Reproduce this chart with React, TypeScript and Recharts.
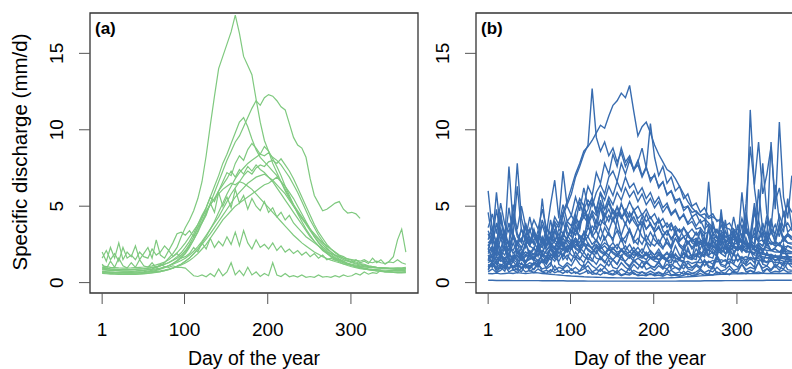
import { LineChart, Line, XAxis, YAxis, ReferenceArea } from 'recharts'

const days = [1,6,11,16,21,26,31,36,41,46,51,56,61,66,71,76,81,86,91,96,101,106,111,116,121,126,131,136,141,146,151,156,161,166,171,176,181,186,191,196,201,206,211,216,221,226,231,236,241,246,251,256,261,266,271,276,281,286,291,296,301,306,311,316,321,326,331,336,341,346,351,356,361,366]

const xTicks = [1, 100, 200, 300]
const yTicks = [0, 5, 10, 15]

// panel (a) - snowmelt catchments
const a01 = [0.9,0.85,0.8,0.8,0.78,0.75,0.75,0.74,0.75,0.78, 0.8,0.85,0.9,1.0,1.1,1.3,1.6,1.9,2.3,3.0, 3.6,4.1,4.7,5.5,6.6,8.3,10.3,12.2,14.0,14.8, 15.6,16.4,17.5,16.3,14.8,14.2,13.6,12.0,10.5,9.3, 8.6,7.8,7.2,6.6,6.0,5.5,5.0,4.6,4.2,3.9, 3.5,3.2,2.9,2.6,2.4,2.2,2.0,1.8,1.7,1.55, 1.45,1.35,1.25,1.2,1.1,1.05,1.0,0.98,0.95,0.92, 0.9,0.9,0.88,0.9]
const a02 = [0.7,0.68,0.66,0.65,0.64,0.63,0.62,0.62,0.63,0.65, 0.67,0.7,0.74,0.8,0.88,0.98,1.1,1.25,1.45,1.7, 2.0,2.4,2.8,3.3,3.9,4.5,5.2,5.9,6.6,7.3, 8.0,8.6,9.2,9.6,10.2,10.8,11.4,11.9,11.6,12.1, 12.3,12.2,11.9,11.5,11.3,10.4,9.5,9.0,8.8,8.2, 6.8,5.7,5.2,4.7,4.8,5.0,5.2,5.3,4.8,4.55, 4.6,4.5,4.2]
const a03 = [1.0,0.95,0.9,0.88,0.86,0.85,0.85,0.86,0.88,0.9, 0.92,0.95,1.0,1.05,1.1,1.2,1.3,1.45,1.6,1.8, 2.1,2.5,3.0,3.6,4.2,4.9,5.6,6.3,7.0,7.8, 8.4,9.1,9.8,10.5,10.8,10.2,9.4,8.7,8.2,7.9, 7.6,7.3,7.0,6.6,6.1,5.6,5.1,4.7,4.3,3.9, 3.5,3.1,2.8,2.5,2.2,2.0,1.8,1.65,1.5,1.4, 1.3,1.22,1.15,1.1,1.05,1.0,0.98,0.95,0.93,0.92, 0.9,0.9,0.9,0.92]
const a04 = [0.75,0.72,0.7,0.68,0.67,0.66,0.66,0.67,0.68,0.7, 0.72,0.75,0.8,0.85,0.92,1.0,1.1,1.25,1.4,1.6, 1.9,2.3,2.8,3.4,4.0,4.6,5.1,5.5,6.0,6.6, 7.2,7.0,7.8,8.3,8.0,8.7,9.1,8.8,8.4,8.9, 8.6,8.1,7.6,7.0,6.3,5.7,5.1,4.5,4.0,3.5, 3.1,2.7,2.4,2.1,1.9,1.7,1.55,1.4,1.3,1.2, 1.12,1.05,1.0,0.95,0.9,0.87,0.85,0.83,0.82,0.8, 0.8,0.79,0.78,0.8]
const a05 = [0.65,0.62,0.6,0.58,0.57,0.56,0.56,0.56,0.57,0.58, 0.6,0.62,0.65,0.68,0.72,0.78,0.85,0.95,1.05,1.2, 1.4,1.6,1.9,2.2,2.6,3.0,3.5,4.0,4.6,5.2, 5.8,6.3,6.8,7.2,7.5,7.8,8.0,8.2,8.4,8.3, 8.5,8.2,8.0,7.7,7.3,6.9,6.4,5.9,5.3,4.7, 4.1,3.6,3.1,2.7,2.3,2.0,1.75,1.55,1.4,1.25, 1.15,1.05,0.98,0.92,0.87,0.82,0.78,0.75,0.72,0.7, 0.68,0.67,0.66,0.68]
const a06 = [0.85,0.82,0.8,0.78,0.76,0.75,0.75,0.75,0.76,0.78, 0.8,0.83,0.86,0.9,0.95,1.02,1.1,1.2,1.32,1.45, 1.6,1.8,2.05,2.35,2.7,3.1,3.5,3.9,4.3,4.8, 5.3,5.8,6.2,6.6,7.0,7.3,7.1,7.5,7.7,7.6, 7.9,8.0,7.8,8.1,7.7,7.3,6.8,6.2,5.6,5.0, 4.4,3.8,3.3,2.9,2.5,2.2,1.95,1.75,1.6,1.45, 1.35,1.27,1.2,1.14,1.08,1.04,1.0,0.97,0.95,0.93, 0.92,0.9,0.9,0.92]
const a07 = [0.95,0.9,0.88,0.86,0.85,0.84,0.84,0.85,0.86,0.88, 0.9,0.93,0.97,1.02,1.1,1.2,1.32,1.48,1.7,1.95, 2.3,2.7,3.2,3.8,4.4,4.9,5.6,5.3,6.0,6.4, 6.8,7.3,6.9,7.4,7.1,7.6,7.3,7.7,7.4,7.2, 6.9,6.6,6.2,5.8,5.4,5.0,4.6,4.2,3.8,3.4, 3.0,2.7,2.4,2.15,1.95,1.75,1.6,1.47,1.36,1.27, 1.2,1.14,1.09,1.05,1.02,1.0,0.98,0.96,0.95,0.94, 0.93,0.93,0.92,0.94]
const a08 = [0.6,0.58,0.56,0.55,0.54,0.53,0.53,0.53,0.54,0.55, 0.57,0.6,0.63,0.67,0.72,0.78,0.86,0.96,1.08,1.22, 1.4,1.62,1.88,2.18,2.5,2.85,3.2,3.6,4.0,4.4, 4.8,5.2,5.6,5.9,6.2,6.5,6.7,6.9,7.0,7.1, 6.9,6.7,6.4,6.1,5.8,5.4,5.0,4.6,4.2,3.8, 3.4,3.0,2.65,2.35,2.1,1.85,1.65,1.48,1.34,1.22, 1.12,1.03,0.96,0.9,0.85,0.8,0.76,0.73,0.7,0.68, 0.66,0.64,0.63,0.65]
const a09 = [1.1,1.05,1.0,0.98,0.96,0.95,0.95,0.96,0.98,1.0, 1.02,1.05,1.1,1.16,1.24,1.35,1.5,1.7,1.95,2.25, 2.6,3.0,3.4,3.8,4.3,4.7,5.1,5.5,5.8,6.1, 6.3,6.5,6.4,6.6,6.5,6.3,6.1,5.8,5.5,5.2, 4.9,4.6,4.3,4.0,3.7,3.4,3.1,2.85,2.6,2.4, 2.2,2.0,1.85,1.7,1.58,1.47,1.38,1.3,1.23,1.17, 1.12,1.08,1.05,1.02,1.0,0.98,0.97,0.96,0.95,0.95, 0.95,0.96,0.97,1.0]
const a10 = [1.6,2.1,1.5,1.9,1.4,2.3,1.6,1.8,1.5,2.0, 1.7,1.6,2.2,1.8,2.0,2.4,2.1,2.6,3.2,3.3, 3.1,3.4,3.0,3.6,3.9,4.4,5.2,4.6,5.9,5.0, 5.6,4.9,6.1,5.2,5.7,4.8,5.5,5.0,4.7,5.3, 4.6,4.9,4.3,4.6,4.1,4.4,3.9,3.6,3.3,3.0, 2.8,2.6,2.4,2.2,2.0,1.9,1.8,1.7,1.6,1.55, 1.5,1.45,1.4,1.5,1.35,1.3,1.4,1.3,1.25,1.35, 1.3,1.5,1.3,1.2]
const a11 = [2.0,1.4,2.3,1.6,2.6,1.5,2.0,1.7,2.4,1.5, 1.9,2.3,1.6,2.8,1.8,1.6,2.1,1.7,1.9,1.6, 1.7,1.9,2.3,2.0,2.6,2.2,2.9,2.3,2.7,2.4, 3.0,2.5,3.3,2.4,3.4,2.6,2.2,2.8,2.3,2.5, 2.2,2.6,2.1,2.4,2.0,2.2,1.9,2.1,1.8,2.0, 1.7,1.9,1.6,1.8,1.5,1.6,1.45,1.5,1.4,1.45, 1.35,1.5,1.3,1.4,1.25,1.6,1.3,1.5,1.2,1.4, 1.7,2.8,3.5,2.0]
const a12 = [1.2,0.9,1.4,1.0,1.6,1.1,0.95,1.3,1.0,1.5, 1.1,1.0,1.3,0.95,1.2,1.05,1.0,1.1,1.0,1.0, 0.95,0.7,0.45,0.4,0.5,0.38,0.6,0.4,0.9,0.45, 0.7,1.3,0.5,0.8,0.45,1.0,0.5,0.7,0.4,0.6, 0.45,1.3,0.5,0.4,0.6,0.38,0.45,0.36,0.5,0.35, 0.4,0.35,0.5,0.36,0.4,0.34,0.45,0.36,0.5,0.4, 0.45,0.6,0.5,0.7,0.55,0.65,0.6,0.8,0.7,0.75, 0.8,0.9,0.85,0.9]
const a13 = [0.7,0.68,0.66,0.64,0.63,0.62,0.62,0.62,0.63,0.64, 0.66,0.68,0.7,0.73,0.77,0.82,0.88,0.95,1.05,1.15, 1.28,1.45,1.65,1.9,2.2,2.5,2.9,3.3,3.7,4.1, 4.4,4.7,5.0,5.2,5.4,5.6,5.8,6.0,6.2,6.4, 6.5,6.7,6.9,6.6,6.3,5.9,5.5,5.0,4.5,4.0, 3.5,3.0,2.6,2.25,1.95,1.7,1.5,1.35,1.22,1.12, 1.04,0.97,0.92,0.88,0.84,0.81,0.78,0.76,0.74,0.72, 0.71,0.7,0.7,0.72]

// panel (b) - rain-fed catchments
const b01 = [0.15,0.15,0.14,0.14,0.14,0.14,0.13,0.13,0.13,0.13, 0.13,0.13,0.13,0.12,0.12,0.12,0.12,0.12,0.12,0.11, 0.11,0.11,0.11,0.11,0.1,0.1,0.1,0.1,0.1,0.1, 0.1,0.1,0.1,0.1,0.1,0.1,0.1,0.1,0.1,0.1, 0.1,0.1,0.1,0.1,0.1,0.1,0.11,0.11,0.11,0.11, 0.11,0.11,0.12,0.12,0.12,0.12,0.12,0.13,0.13,0.13, 0.13,0.13,0.14,0.14,0.14,0.14,0.14,0.15,0.15,0.15, 0.15,0.15,0.15,0.15]
const b02 = [0.6,0.58,0.62,0.57,0.6,0.63,0.6,0.65,0.62,0.6, 0.62,0.66,0.64,0.6,0.58,0.55,0.52,0.5,0.47,0.45, 0.43,0.42,0.4,0.38,0.37,0.36,0.35,0.34,0.33,0.32, 0.32,0.31,0.31,0.3,0.3,0.3,0.29,0.29,0.28,0.28, 0.28,0.29,0.3,0.31,0.32,0.33,0.35,0.36,0.38,0.4, 0.42,0.44,0.46,0.48,0.5,0.52,0.54,0.55,0.56,0.57, 0.58,0.58,0.6,0.59,0.6,0.6,0.61,0.6,0.6,0.61, 0.6,0.6,0.6,0.6]
const b03 = [0.9,1.2,0.85,1.0,1.4,0.9,1.1,0.8,1.3,0.95, 1.1,0.85,1.2,0.9,1.0,1.3,0.8,1.0,0.9,1.15, 0.8,1.0,0.75,0.9,1.1,0.7,0.85,0.75,1.0,0.7, 0.8,0.65,0.9,0.7,0.6,0.8,0.65,0.7,0.6,0.75, 0.6,0.7,0.55,0.65,0.8,0.6,0.7,0.55,0.75,0.6, 0.7,0.9,0.65,0.8,0.7,1.0,0.75,0.85,1.1,0.8, 0.9,1.2,0.85,1.0,0.9,1.3,0.95,1.1,0.85,1.2, 1.0,0.9,1.3,1.0]
const b04 = [1.4,1.9,1.2,1.6,2.3,1.3,1.7,1.5,2.0,1.3, 1.8,1.4,2.2,1.5,1.3,1.9,1.6,2.4,1.5,1.8, 1.4,2.0,1.6,1.3,1.9,1.5,1.2,1.7,1.4,1.1, 1.5,1.2,1.8,1.3,1.0,1.4,1.2,0.95,1.3,1.1, 1.0,1.4,0.9,1.2,1.0,1.5,1.1,0.9,1.3,1.0, 1.2,1.6,1.1,1.4,1.2,1.8,1.3,1.5,1.2,1.9, 1.4,1.7,1.3,2.1,1.5,1.6,1.3,2.0,1.5,1.8, 1.4,2.2,1.6,1.5]
const b05 = [2.2,1.6,2.8,1.9,2.4,1.7,3.1,2.0,1.8,2.6, 1.9,2.3,1.7,2.9,2.1,2.5,1.8,2.2,2.7,2.0, 2.4,2.9,2.1,3.3,2.5,2.2,2.8,2.4,3.0,2.3, 2.6,2.2,2.9,2.1,2.5,2.0,2.3,1.9,2.6,2.0, 1.8,2.2,1.7,2.0,1.6,2.4,1.8,1.6,2.1,1.7, 1.9,1.6,2.3,1.8,2.0,1.7,2.6,1.9,2.2,1.8, 2.4,2.0,2.9,2.1,1.9,2.5,2.0,2.7,2.1,2.3, 2.6,2.0,2.4,2.2]
const b06 = [1.0,1.3,0.9,2.1,1.1,0.9,1.4,1.0,1.7,1.1, 0.9,1.2,1.0,1.5,0.9,1.1,2.4,1.2,1.0,1.3, 1.1,1.6,1.2,1.0,1.4,1.1,0.9,1.2,1.0,1.5, 1.0,0.9,1.3,1.0,0.8,1.2,0.9,1.4,0.85,1.0, 0.8,1.1,0.9,1.6,0.85,1.0,0.8,1.2,0.9,0.8, 1.1,0.9,1.4,1.0,0.9,1.6,1.1,1.0,2.0,1.2, 1.0,1.5,1.1,1.3,1.0,2.2,1.2,1.1,1.6,1.0, 1.3,1.1,1.8,1.2]
const b07 = [3.2,2.5,3.9,2.8,3.4,2.4,4.2,3.0,2.6,3.6, 2.7,3.3,2.5,3.8,2.9,2.6,3.4,2.8,4.0,3.1, 2.7,3.5,2.9,3.2,3.8,3.0,3.4,2.8,3.6,3.1, 2.9,3.4,2.7,3.0,3.5,2.6,2.9,2.5,3.1,2.6, 2.4,2.8,2.3,2.6,2.2,2.9,2.4,2.1,2.7,2.3, 2.6,2.2,2.9,2.4,2.7,2.3,3.3,2.6,2.9,2.5, 3.1,2.6,3.6,2.8,3.2,2.7,3.9,2.9,3.3,2.8, 3.5,2.9,3.2,3.0]
const b08 = [1.6,1.7,1.5,1.8,1.6,1.9,1.5,1.7,1.6,1.8, 1.7,1.9,1.8,2.1,1.9,2.2,2.0,2.3,2.1,2.4, 2.2,2.5,2.3,2.6,2.4,2.3,2.5,2.2,2.4,2.1, 2.2,2.0,2.1,1.9,2.0,1.8,1.9,1.7,1.8,1.6, 1.7,1.5,1.6,1.4,1.5,1.35,1.45,1.3,1.4,1.25, 1.35,1.3,1.4,1.3,1.45,1.35,1.5,1.4,1.55,1.45, 1.5,1.6,1.5,1.65,1.55,1.7,1.6,1.65,1.6,1.7, 1.65,1.6,1.7,1.65]
const b09 = [1.1,1.3,1.0,1.2,1.1,1.4,1.0,1.3,1.2,1.1, 1.3,1.2,1.5,1.3,1.7,1.5,1.9,1.7,2.2,2.0, 2.6,2.3,3.1,2.8,3.6,3.2,4.1,3.7,4.5,4.0, 4.8,4.3,5.1,4.6,5.3,4.7,5.0,4.4,4.8,4.2, 4.5,3.9,4.2,3.6,3.9,3.3,3.5,3.0,3.2,2.7, 2.9,2.5,2.6,2.3,2.4,2.1,2.2,1.9,2.0,1.8, 1.8,1.6,1.7,1.5,1.6,1.4,1.5,1.35,1.4,1.3, 1.35,1.25,1.3,1.2]
const b10 = [2.4,3.0,2.2,4.6,2.6,2.1,3.2,2.5,2.9,2.3, 3.5,2.6,2.2,3.0,2.4,4.1,2.8,2.5,3.3,2.7, 2.4,3.8,2.9,2.6,4.5,3.1,2.7,3.6,2.8,3.3, 2.7,4.2,3.0,2.6,3.5,2.8,2.5,3.9,2.7,2.4, 3.2,2.5,2.2,2.9,2.3,3.6,2.4,2.1,2.7,2.2, 2.5,3.4,2.3,2.1,2.8,2.3,4.4,2.6,2.2,3.1, 2.5,3.8,2.7,2.3,4.9,2.8,3.3,2.6,4.2,2.9, 3.6,2.7,3.1,2.8]
const b11 = [3.6,4.5,3.2,5.2,3.8,3.3,4.4,3.5,5.0,3.7, 3.3,4.1,3.5,4.8,3.6,3.2,4.3,3.8,5.1,4.0, 4.4,3.9,5.3,4.3,4.8,5.6,4.5,5.0,4.2,5.4, 4.6,4.1,5.2,4.4,3.9,4.8,4.0,3.7,4.5,3.8, 3.5,4.2,3.4,3.1,3.8,3.2,2.9,3.6,3.0,2.8, 3.3,2.8,2.6,3.4,2.9,2.7,3.8,3.0,2.8,3.5, 3.1,4.2,3.3,3.0,4.6,3.4,3.1,4.0,3.5,3.2, 4.4,3.6,3.9,3.4]
const b12 = [1.3,1.5,1.2,1.6,1.4,1.3,1.8,1.4,1.5,1.3, 1.6,1.5,1.9,1.7,2.1,2.4,2.2,2.8,3.1,2.9, 3.6,4.2,3.9,4.8,5.4,5.0,5.9,6.4,5.8,6.9, 7.3,6.6,7.8,7.1,8.0,7.4,7.7,6.9,7.5,6.8, 7.0,6.3,6.6,5.8,6.0,5.4,5.5,4.9,5.0,4.6, 4.7,4.4,4.5,4.2,4.3,4.1,4.0,3.6,3.5,3.1, 2.9,2.6,2.5,2.3,2.2,2.0,1.9,1.8,1.7,1.65, 1.6,1.55,1.5,1.5]
const b13 = [1.8,1.6,2.0,1.7,1.5,1.9,1.6,1.8,1.5,1.7, 1.9,1.6,2.2,2.0,2.5,2.9,3.4,3.9,4.6,5.3, 6.2,7.1,7.8,8.6,8.9,9.3,9.8,10.3,10.1,10.9, 11.6,11.9,12.4,12.1,12.9,11.2,9.6,10.2,10.5,9.8, 9.0,8.4,7.9,7.4,7.2,6.8,6.3,5.8,5.3,4.9, 4.6,4.4,4.2,3.9,3.6,3.3,3.0,2.8,2.6,2.4, 2.3,2.2,2.1,2.0,1.95,1.9,1.85,1.8,1.8,1.75, 1.75,1.7,1.7,1.7]
const b14 = [2.5,2.0,2.8,2.2,3.1,2.4,2.1,2.7,2.3,2.9, 2.4,2.2,3.0,2.6,3.5,3.1,4.0,3.6,4.4,5.1, 5.8,6.9,7.6,8.4,9.0,12.7,9.5,8.6,9.2,8.3, 8.8,7.9,8.5,7.6,8.2,7.3,7.9,8.8,7.5,10.4, 8.2,7.0,7.6,6.5,6.9,6.0,6.3,5.5,5.8,5.0, 5.2,4.6,4.9,4.3,4.5,4.0,4.2,3.7,3.9,3.4, 3.5,3.1,3.3,2.9,3.0,2.7,2.8,2.5,2.6,2.4, 2.5,2.3,2.4,2.3]
const b15 = [1.5,1.3,1.7,1.4,1.6,1.2,1.5,1.3,1.8,1.4, 1.5,1.7,1.4,1.9,1.6,2.2,1.9,2.6,2.3,3.0, 3.4,3.1,3.8,4.3,3.9,4.7,4.4,5.2,4.8,5.6, 5.1,5.9,5.4,6.2,5.6,6.0,5.3,5.8,5.1,5.5, 4.9,5.3,4.6,5.0,4.4,4.7,4.1,4.5,3.9,4.3, 3.7,4.1,3.5,3.8,3.2,3.5,3.0,3.3,2.8,3.0, 2.6,2.8,2.5,2.6,2.3,2.5,2.2,2.3,2.1,2.2, 2.0,2.1,2.0,2.0]
const b16 = [2.8,3.6,2.5,4.4,3.0,2.6,5.1,3.2,2.7,3.9, 2.9,2.5,3.4,2.7,2.4,3.1,2.6,2.3,2.9,2.5, 2.2,2.7,2.3,2.0,2.6,2.2,1.9,2.4,2.0,1.8, 2.3,1.9,1.7,2.1,1.8,1.6,2.0,1.7,1.5,1.9, 1.6,1.5,1.8,1.5,2.1,1.6,1.5,2.4,1.7,1.6, 2.9,1.9,1.7,3.6,2.2,1.9,4.8,2.5,2.1,3.4, 2.6,5.9,3.2,11.3,6.2,4.1,7.8,4.5,3.6,6.4, 4.0,3.3,5.5,3.6]
const b17 = [3.4,2.7,4.8,3.1,2.6,3.9,2.9,2.5,3.5,2.8, 2.4,3.2,2.6,2.3,3.0,2.5,2.2,2.8,2.4,2.1, 2.6,2.2,2.0,2.5,2.1,1.9,2.3,2.0,1.8,2.2, 1.9,1.7,2.1,1.8,1.6,2.0,1.7,1.6,1.9,1.6, 1.5,1.8,1.6,1.5,1.9,1.6,1.5,2.0,1.7,1.6, 2.2,1.8,1.7,2.6,2.0,1.8,3.0,2.2,2.0,3.5, 2.4,2.2,4.6,2.8,2.5,6.1,3.4,2.9,9.2,4.8, 10.5,5.6,4.2,7.0]
const b18 = [2.0,2.4,1.8,2.9,2.1,1.7,2.6,1.9,2.2,1.8, 2.1,1.8,2.5,1.9,1.7,2.3,1.8,2.0,1.7,2.2, 1.8,1.6,2.1,1.7,1.5,2.0,1.6,1.5,1.9,1.6, 1.5,1.8,1.5,1.4,1.7,1.4,1.6,1.4,1.3,1.6, 1.4,1.3,1.7,1.4,1.3,1.9,1.5,1.4,2.3,1.6, 1.5,2.8,1.9,1.7,3.3,2.3,2.0,4.1,2.6,2.3, 3.8,2.9,5.2,8.9,6.4,9.2,5.8,7.1,8.9,5.3, 6.2,4.4,5.1,4.6]
const b19 = [6.0,3.4,2.6,4.1,2.9,7.6,3.8,7.8,4.2,3.1, 2.7,3.5,2.5,2.3,3.2,2.6,2.3,2.9,2.4,2.2, 2.7,2.3,2.1,2.5,2.2,2.0,2.4,2.1,1.9,2.3, 2.0,1.8,2.2,1.9,1.7,2.1,1.8,1.7,2.0,1.7, 1.6,1.9,1.7,1.5,1.8,1.6,1.5,1.9,1.6,1.5, 1.8,1.6,2.2,1.7,1.6,2.5,1.9,1.7,2.8,2.0, 2.3,3.1,2.4,2.2,3.6,2.6,2.4,3.3,2.7,2.5, 3.9,2.8,3.2,2.9]
const b20 = [2.2,2.9,2.0,3.6,2.4,2.1,3.2,2.5,2.2,3.0, 2.6,3.4,2.8,4.1,3.2,5.1,6.7,4.2,7.3,5.0, 4.4,5.6,4.7,6.2,5.0,5.5,4.6,5.9,4.8,5.2, 4.5,4.9,4.2,4.6,3.9,4.3,3.7,4.0,3.5,3.8, 3.3,3.6,3.1,3.4,2.9,3.2,2.8,3.0,2.6,2.9, 2.5,2.7,2.4,2.6,2.3,2.5,2.2,2.4,2.1,2.3, 2.1,2.4,2.0,2.6,2.1,2.3,2.0,2.5,2.1,2.2, 2.0,2.3,2.1,2.0]
const b21 = [1.2,1.0,1.4,1.1,0.9,1.3,1.0,1.2,0.95,1.1, 1.0,1.3,1.1,1.5,1.2,1.7,1.4,2.0,1.8,2.4, 2.2,2.9,2.6,3.3,3.0,3.7,3.4,4.1,3.8,4.4, 4.0,4.6,4.2,4.8,4.3,4.7,4.2,4.5,4.0,4.3, 3.8,4.1,3.6,3.9,3.4,3.7,3.3,3.6,3.2,3.5, 3.1,3.4,3.0,6.6,3.3,2.9,3.1,2.7,2.9,2.5, 2.6,2.3,2.4,2.1,2.2,1.9,2.0,1.8,1.85,1.7, 1.7,1.6,1.65,1.6]
const b22 = [1.9,2.3,1.7,2.1,1.8,2.5,1.9,2.2,1.7,2.0, 1.8,2.2,2.0,2.6,2.3,3.0,2.7,3.5,3.2,4.0, 3.7,4.6,5.5,5.0,6.3,5.7,7.2,6.5,7.8,7.1, 8.4,7.6,8.8,7.9,8.3,7.4,8.0,7.0,7.6,6.6, 7.1,6.2,6.6,5.7,6.0,5.2,5.5,4.7,5.0,4.3, 4.5,3.9,4.1,3.6,3.7,3.3,3.4,3.0,3.1,2.8, 2.8,2.6,2.6,2.4,2.4,2.2,2.2,2.1,2.1,2.0, 2.0,1.9,1.9,1.9]
const b23 = [0.7,0.9,0.65,0.8,1.1,0.7,0.85,0.65,0.95,0.7, 0.8,0.65,0.9,0.7,0.6,0.85,0.65,0.75,0.6,0.8, 0.6,0.7,0.55,0.65,0.8,0.55,0.6,0.5,0.7,0.55, 0.5,0.6,0.45,0.55,0.5,0.65,0.45,0.5,0.45,0.6, 0.45,0.5,0.42,0.55,0.45,0.5,0.42,0.48,0.6,0.45, 0.5,0.6,0.48,0.55,0.5,0.7,0.55,0.6,0.52,0.75, 0.6,0.65,0.58,0.8,0.62,0.7,0.6,0.9,0.65,0.75, 0.7,0.85,0.68,0.72]
const b24 = [1.8,1.3,2.4,1.5,1.2,1.9,1.4,2.6,1.6,1.3, 2.0,1.5,1.3,1.8,1.4,2.2,1.6,1.4,1.9,1.5, 2.3,1.7,1.5,2.0,1.6,1.4,2.1,1.6,1.3,1.8, 1.5,1.2,1.7,1.3,1.1,1.5,1.2,1.0,1.4,1.1, 1.0,1.3,1.0,0.9,1.2,1.0,0.9,1.4,1.0,0.95, 1.2,1.0,1.5,1.1,1.0,1.7,1.2,1.1,1.4,1.2, 1.9,1.3,1.2,1.6,1.3,2.3,1.4,1.3,1.8,1.4, 1.6,2.5,1.5,1.4]
const b25 = [4.6,2.8,5.9,3.3,2.7,4.9,3.1,6.3,3.4,2.9, 4.3,3.0,2.6,5.5,3.1,2.8,3.9,2.7,4.6,3.3, 3.0,4.1,3.4,5.0,3.8,4.4,3.5,4.9,3.9,3.4, 4.2,3.5,3.1,3.9,3.3,2.9,3.6,3.0,2.7,3.3, 2.8,2.5,3.1,2.6,2.4,2.9,2.5,2.3,3.2,2.6, 2.4,3.5,2.7,2.5,4.0,2.9,2.6,3.4,2.8,4.3, 3.0,2.7,3.6,3.1,5.2,3.4,2.9,4.4,3.2,3.8, 3.0,4.7,3.3,3.6]
const b26 = [0.8,1.4,0.7,1.0,0.75,1.6,0.8,0.9,0.7,1.2, 0.75,0.9,1.3,0.7,0.8,0.65,1.1,0.7,0.85,0.65, 0.9,0.6,0.75,1.2,0.6,0.7,0.55,0.9,0.6,0.65, 0.55,0.8,0.5,0.6,1.0,0.55,0.5,0.7,0.5,0.55, 0.5,0.65,0.48,0.9,0.5,0.55,0.5,0.75,0.5,0.6, 0.55,0.8,0.6,0.55,1.1,0.6,0.7,0.6,0.9,0.65, 0.7,1.2,0.7,0.8,0.7,1.4,0.75,0.9,0.8,1.1, 0.8,1.3,0.85,0.8]
const b27 = [1.5,2.2,1.4,1.8,3.1,1.6,1.4,2.0,1.5,2.6, 1.7,1.5,2.3,1.8,2.9,2.2,3.4,2.6,3.0,3.8, 3.2,4.4,3.6,5.1,4.0,4.6,3.9,5.4,4.3,4.8, 4.1,5.0,4.4,3.8,4.6,4.0,3.6,4.3,3.5,3.9, 3.3,3.7,3.0,3.4,2.8,3.2,2.7,3.0,2.5,2.9, 2.4,2.7,2.3,3.6,2.5,2.2,2.9,2.3,2.1,3.2, 2.4,2.2,3.7,2.5,2.3,4.1,2.7,2.4,3.5,2.6, 2.4,3.0,2.6,2.5]
const b28 = [2.6,2.9,2.4,3.3,2.7,2.5,3.0,2.6,3.5,2.8, 2.5,2.8,3.1,2.6,2.9,2.4,2.7,3.2,2.5,2.8, 2.6,2.9,2.4,2.7,3.0,2.5,2.8,2.3,2.6,2.4, 2.2,2.5,2.1,2.4,2.0,2.3,1.9,2.2,1.8,2.1, 1.8,2.0,1.7,1.9,1.6,1.8,1.6,1.9,1.7,1.8, 1.7,2.0,1.8,2.2,1.9,2.1,1.9,2.3,2.0,2.4, 2.1,2.5,2.2,2.7,2.3,2.6,2.4,2.9,2.5,2.7, 2.5,2.8,2.6,2.6]
const b29 = [1.0,1.2,0.9,1.1,1.0,1.3,0.95,1.1,1.0,1.2, 1.1,1.3,1.2,1.5,1.4,1.8,1.7,2.3,2.2,2.9, 3.4,3.1,4.0,4.6,4.2,5.3,4.8,5.9,5.4,6.3, 5.7,6.6,6.0,6.9,6.2,6.5,5.8,6.2,5.5,5.9, 5.2,5.6,4.9,5.2,4.5,4.8,4.2,4.4,3.8,4.0, 3.5,3.6,3.2,3.3,2.9,3.0,2.6,2.7,2.4,2.4, 2.2,2.2,2.0,2.0,1.8,1.8,1.7,1.6,1.6,1.5, 1.5,1.4,1.4,1.4]

const seriesA: Record<string, number[]> = { a01, a02, a03, a04, a05, a06, a07, a08, a09, a10, a11, a12, a13 }
const seriesB: Record<string, number[]> = { b01, b02, b03, b04, b05, b06, b07, b08, b09, b10, b11, b12, b13, b14, b15, b16, b17, b18, b19, b20, b21, b22, b23, b24, b25, b26, b27, b28, b29 }

function buildRows(series: Record<string, number[]>) {
  return days.map((day, i) => {
    const row: Record<string, number | null> = { day }
    for (const k of Object.keys(series)) row[k] = series[k][i] ?? null
    return row
  })
}

const rowsA = buildRows(seriesA)
const rowsB = buildRows(seriesB)

const FONT = '"Liberation Sans", Arial, Helvetica, sans-serif'
const X_DOMAIN = [-13.6, 380.6]
const Y_DOMAIN = [-0.68, 17.64]

function RotTick(props: any) {
  const { x, y, payload } = props
  return (
    <text x={x} y={y} transform={`rotate(-90, ${x}, ${y})`} textAnchor="middle" fontSize={19} fill="#000" fontFamily={FONT}>
      {payload.value}
    </text>
  )
}

function Panel({ rows, keys, color, width, letter, left }: { rows: any[]; keys: string[]; color: string; width: number; letter: string; left: number }) {
  return (
    <div style={{ position: 'absolute', left, top: 0 }}>
      <LineChart width={440} height={369} data={rows} margin={{ top: 13, right: 22, bottom: 0, left: 0 }} style={{ fontFamily: FONT }}>
        <XAxis
          dataKey="day"
          type="number"
          domain={X_DOMAIN}
          ticks={xTicks}
          allowDataOverflow
          height={76}
          axisLine={false}
          tickSize={11}
          tickMargin={19}
          tickLine={{ stroke: '#555' }}
          tick={{ fontSize: 19, fill: '#000', fontFamily: FONT }}
          interval={0}
        />
        <YAxis
          type="number"
          domain={Y_DOMAIN}
          ticks={yTicks}
          allowDataOverflow
          width={90}
          axisLine={false}
          tickSize={11}
          tickMargin={16}
          tickLine={{ stroke: '#555' }}
          tick={<RotTick />}
          interval={0}
        />
        <ReferenceArea x1={X_DOMAIN[0]} x2={X_DOMAIN[1]} y1={Y_DOMAIN[0]} y2={Y_DOMAIN[1]} fill="none" fillOpacity={0} stroke="#333" strokeWidth={1.3} ifOverflow="visible" />
        {keys.map(k => (
          <Line key={k} dataKey={k} type="linear" stroke={color} strokeWidth={width} dot={false} activeDot={false} isAnimationActive={false} />
        ))}
      </LineChart>
      <svg width={440} height={369} style={{ position: 'absolute', left: 0, top: 0, pointerEvents: 'none' }}>
        <text x={95} y={34} fontSize={17} fontWeight="bold" fontFamily={FONT} fill="#000">{letter}</text>
        <text x={254} y={364.5} fontSize={19.5} fontFamily={FONT} textAnchor="middle" fill="#000">Day of the year</text>
      </svg>
    </div>
  )
}

export default function App() {
  return (
    <div style={{ position: 'absolute', left: 0, top: 0, width: 792, height: 369, overflow: 'hidden', background: '#fff' }}>
      <Panel rows={rowsA} keys={Object.keys(seriesA)} color="#7fc97f" width={1.2} letter="(a)" left={0} />
      <Panel rows={rowsB} keys={Object.keys(seriesB)} color="#386cb0" width={1.4} letter="(b)" left={386} />
      <svg width={60} height={369} style={{ position: 'absolute', left: 0, top: 0 }}>
        <text x={27} y={152} transform="rotate(-90, 27, 152)" textAnchor="middle" fontSize={20.5} fontFamily={FONT} fill="#000">
          Specific discharge (mm/d)
        </text>
      </svg>
    </div>
  )
}
